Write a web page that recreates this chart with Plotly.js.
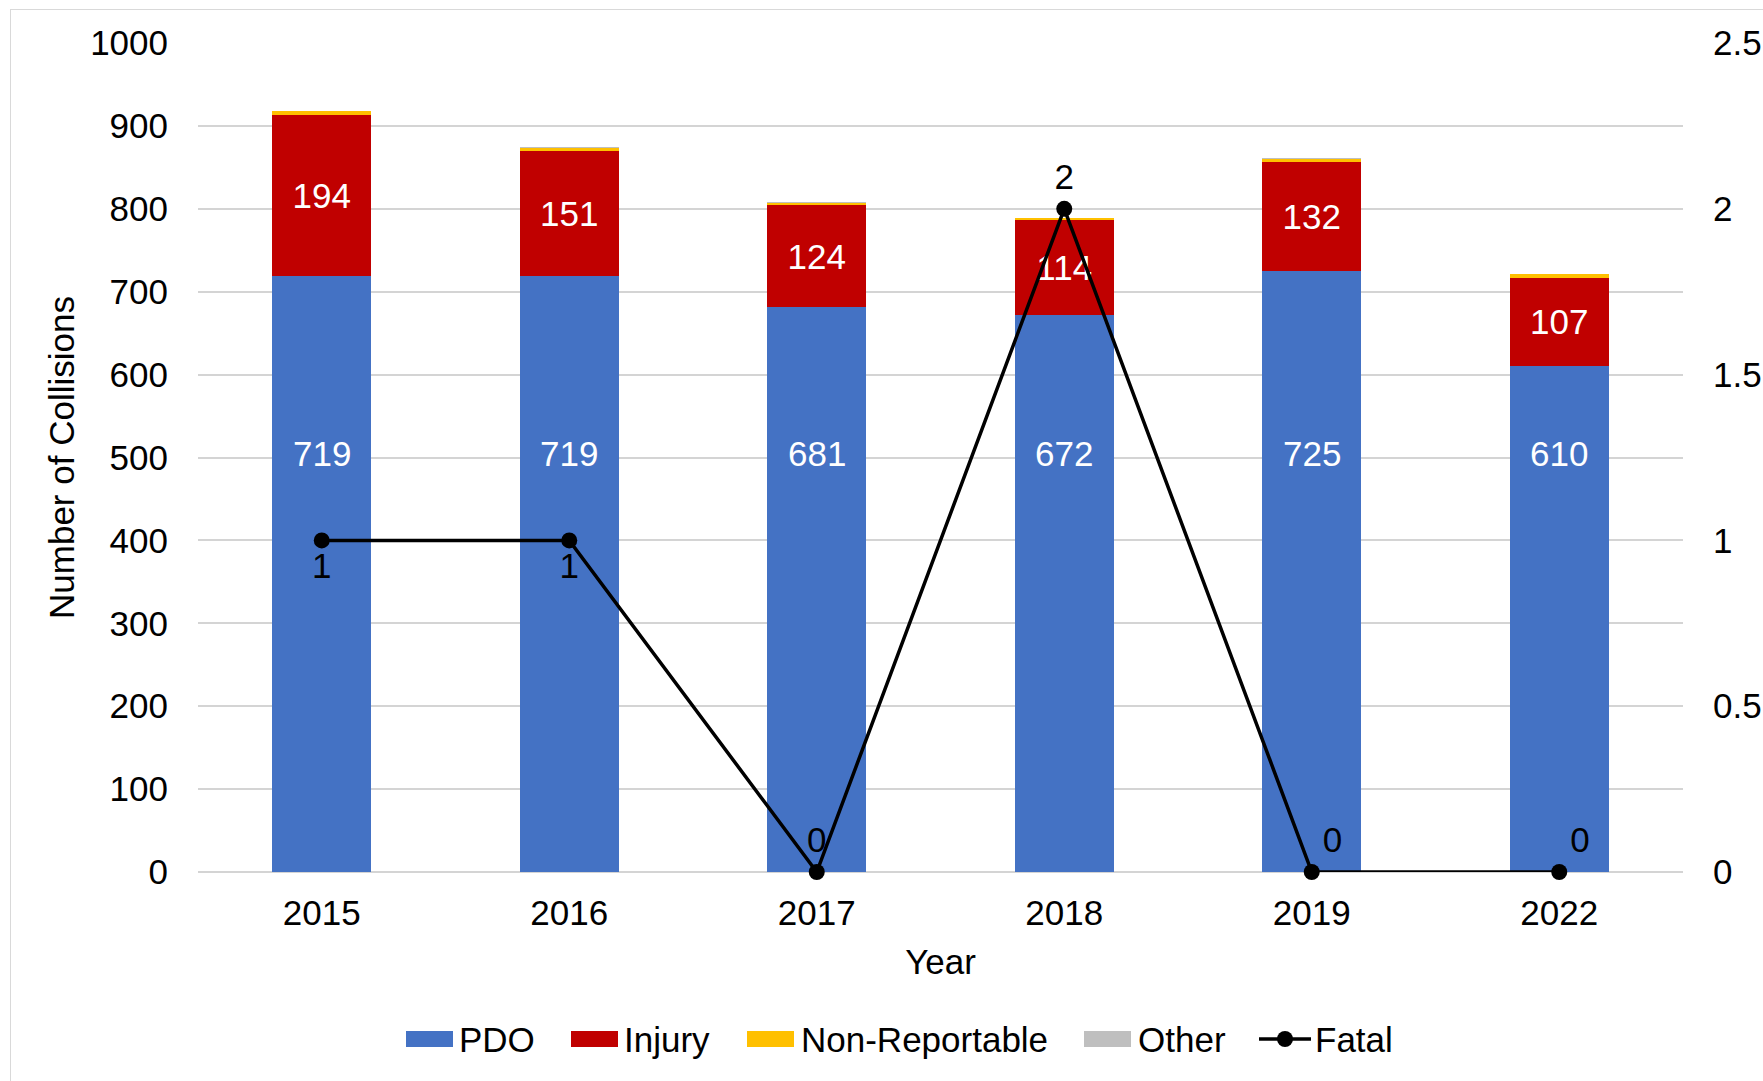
<!DOCTYPE html>
<html>
<head>
<meta charset="utf-8">
<script src="https://cdn.plot.ly/plotly-3.0.1.min.js"></script>
<style>
html,body{margin:0;padding:0;background:#fff;overflow:hidden;}
#wrap{position:relative;width:1763px;height:1081px;}
#frame{position:absolute;left:10px;top:9px;width:2000px;height:2000px;border:1.5px solid #d9d9d9;box-sizing:border-box;}
#chart{position:absolute;left:0;top:0;width:1763px;height:1081px;}
</style>
</head>
<body>
<div id="wrap"><div id="frame"></div><div id="chart"></div></div>
<script>
const years = ['2015','2016','2017','2018','2019','2022'];
const pdo = [719, 719, 681, 672, 725, 610];
const injury = [194, 151, 124, 114, 132, 107];
const nonReportable = [5, 3, 2, 3, 3, 4];
const other = [0, 1, 1, 0, 1, 0];
const fatal = [1, 1, 0, 2, 0, 0];
const seriesNames = ['PDO', 'Injury', 'Non-Reportable', 'Other', 'Fatal'];
const seriesColors = ['#4472C4', '#C00000', '#FFC000', '#BFBFBF', '#000000'];
const fatalLabelPos = ['bottom center','bottom center','top center','top center','top right','top right'];

const F = 'Arial, "Liberation Sans", sans-serif';
const FS = 35;
const W = 1763, H = 1081;
const M = {l:198, r:80, t:43, b:209};
const plotW = W - M.l - M.r, plotH = H - M.t - M.b;
const px2x = p => (p - M.l) / plotW;
const px2y = p => (H - M.b - p) / plotH;

// PDO labels sit at a common level inside the blue bars (as in the reference)
const pdoLabelLevel = 505;

const traces = [
  {type:'bar', name:seriesNames[0], x:years, y:pdo, marker:{color:seriesColors[0]}, textposition:'none', showlegend:false},
  {type:'bar', name:seriesNames[1], x:years, y:injury, marker:{color:seriesColors[1]},
   text:injury.map(String), textposition:'inside', insidetextanchor:'middle',
   textfont:{color:'#ffffff', size:FS, family:F}, constraintext:'none', textangle:0, showlegend:false},
  {type:'bar', name:seriesNames[2], x:years, y:nonReportable, marker:{color:seriesColors[2]}, textposition:'none', showlegend:false},
  {type:'bar', name:seriesNames[3], x:years, y:other, marker:{color:seriesColors[3]}, textposition:'none', showlegend:false},
  {type:'scatter', mode:'lines+markers+text', name:seriesNames[4], x:years, y:fatal, yaxis:'y2',
   line:{color:'#000000', width:3.5}, marker:{color:'#000000', size:16},
   text:fatal.map(String), textposition:fatalLabelPos,
   textfont:{color:'#000000', size:FS, family:F}, cliponaxis:false, showlegend:false}
];

const annotations = years.map((yr, i) => ({
  x: i, y: pdoLabelLevel, xref:'x', yref:'y', text: String(pdo[i]), showarrow:false,
  font:{color:'#ffffff', size:FS, family:F}
}));

// custom legend (wide swatches like the reference)
const legendY = 1039;
const swatchStarts = [406, 571, 747, 1084];
const textStarts = [457, 622, 799, 1136, 1313];
const shapes = [];
for (let i = 0; i < 4; i++) {
  shapes.push({type:'rect', xref:'paper', yref:'paper',
    x0:px2x(swatchStarts[i]), x1:px2x(swatchStarts[i] + 47),
    y0:px2y(legendY + 8), y1:px2y(legendY - 8),
    fillcolor:seriesColors[i], line:{width:0}});
}
shapes.push({type:'line', xref:'paper', yref:'paper', x0:px2x(1259), x1:px2x(1311),
  y0:px2y(legendY), y1:px2y(legendY), line:{color:'#000', width:3.5}});
shapes.push({type:'circle', xref:'paper', yref:'paper', x0:px2x(1277), x1:px2x(1293),
  y0:px2y(legendY + 8), y1:px2y(legendY - 8), fillcolor:'#000', line:{width:0}});
seriesNames.forEach((nm, i) => annotations.push({
  xref:'paper', yref:'paper', x:px2x(textStarts[i]), y:px2y(legendY), xanchor:'left', yanchor:'middle',
  text:nm, showarrow:false, font:{color:'#000', size:FS, family:F}
}));

const layout = {
  width:W, height:H,
  margin:M,
  paper_bgcolor:'rgba(0,0,0,0)', plot_bgcolor:'rgba(0,0,0,0)',
  font:{family:F, size:FS, color:'#000'},
  barmode:'stack', bargap:0.6,
  showlegend:false,
  annotations:annotations,
  shapes:shapes,
  xaxis:{type:'category', categoryarray:years, categoryorder:'array',
         title:{text:'Year', font:{size:FS, family:F}, standoff:18},
         tickfont:{size:FS, family:F}, ticks:'outside', ticklen:10, tickcolor:'rgba(0,0,0,0)',
         showline:false, showgrid:false, zeroline:false},
  yaxis:{range:[0,1000], dtick:100, title:{text:'Number of Collisions', font:{size:FS, family:F}, standoff:4},
         tickfont:{size:FS, family:F}, ticks:'outside', ticklen:22, tickcolor:'rgba(0,0,0,0)',
         showgrid:true, gridcolor:'#d4d4d4', gridwidth:2, zeroline:true, zerolinecolor:'#d4d4d4', zerolinewidth:2,
         showline:false},
  yaxis2:{range:[0,2.5], dtick:0.5, overlaying:'y', side:'right', showgrid:false, zeroline:false,
          tickfont:{size:FS, family:F}, ticks:'outside', ticklen:22, tickcolor:'rgba(0,0,0,0)', showline:false}
};

Plotly.newPlot('chart', traces, layout, {displayModeBar:false, staticPlot:true});
</script>
</body>
</html>
